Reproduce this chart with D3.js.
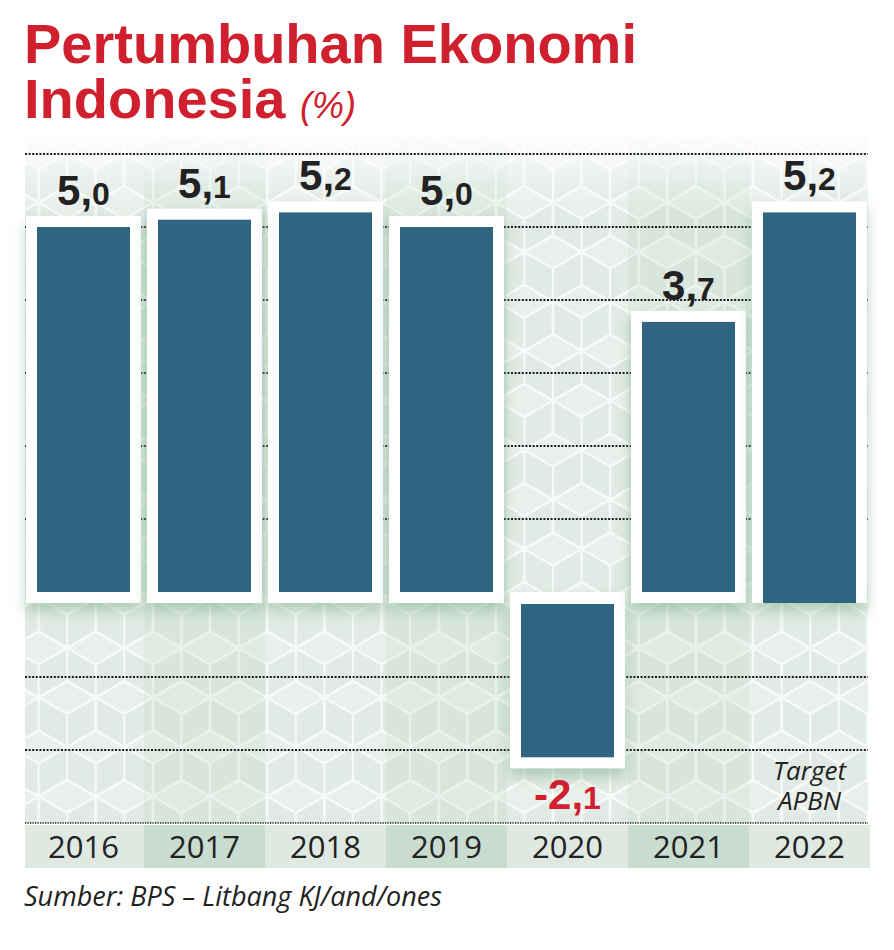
<!DOCTYPE html>
<html>
<head>
<meta charset="utf-8">
<script src="https://cdn.jsdelivr.net/npm/d3@7"></script>
<style>
  body { margin: 0; background: #fff; }
  svg { display: block; }
</style>
</head>
<body>
<div class="chart"></div>
<script>
// data
var years = ['2016', '2017', '2018', '2019', '2020', '2021', '2022'];
var growth = [5.0, 5.1, 5.2, 5.0, -2.1, 3.7, 5.2];
var isTarget = [false, false, false, false, false, false, true];
var gridPos = [1, 2, 3, 4, 5, 6];
var gridNeg = [-1, -2, -3];

var Page = { width: 894, height: 950 };
var red = '#d0202e';
var barColor = '#2f6580';

var svg = d3.select('.chart').append('svg')
  .attr('width', Page.width)
  .attr('height', Page.height);

var x = d3.scaleBand().domain(years).range([26, 867]).paddingInner(6 / 121);
var yPos = d3.scaleLinear().domain([0, 6]).range([592, 154]);
var yNeg = d3.scaleLinear().domain([0, -3]).range([604, 823]);

var left = 25, right = 868;

// defs: cube pattern, fade, shadow
var defs = svg.append('defs');

function hexPath(cx, cy, s) {
  var hw = Math.sqrt(3) * s / 2;
  var pts = [[cx, cy - s], [cx + hw, cy - s / 2], [cx + hw, cy + s / 2],
             [cx, cy + s], [cx - hw, cy + s / 2], [cx - hw, cy - s / 2]];
  var p = 'M' + pts.map(function(q) { return q.join(','); }).join('L') + 'Z';
  p += 'M' + cx + ',' + cy + 'L' + pts[5].join(',');
  p += 'M' + cx + ',' + cy + 'L' + pts[1].join(',');
  p += 'M' + cx + ',' + cy + 'L' + pts[3].join(',');
  return p;
}

var s = 33, W = Math.sqrt(3) * s, H = 3 * s;
var pat = defs.append('pattern')
  .attr('id', 'cubes')
  .attr('patternUnits', 'userSpaceOnUse')
  .attr('x', 10).attr('y', 120)
  .attr('width', W).attr('height', H);
pat.append('rect').attr('width', W).attr('height', H).attr('fill', '#e1eae4');
// lighter top faces
var topFace = function(cx, cy) {
  var hw = Math.sqrt(3) * s / 2;
  return 'M' + cx + ',' + (cy - s) + 'L' + (cx + hw) + ',' + (cy - s / 2) +
    'L' + cx + ',' + cy + 'L' + (cx - hw) + ',' + (cy - s / 2) + 'Z';
};
var centers = [[0, 0], [W, 0], [0, H], [W, H], [W / 2, 1.5 * s]];
pat.selectAll('.face').data(centers).enter().append('path')
  .attr('d', function(c) { return topFace(c[0], c[1]); })
  .attr('fill', '#e9f0eb');
pat.selectAll('.hex').data(centers).enter().append('path')
  .attr('d', function(c) { return hexPath(c[0], c[1], s); })
  .attr('fill', 'none')
  .attr('stroke', '#f7faf8')
  .attr('stroke-width', 2.4);

var fade = defs.append('linearGradient')
  .attr('id', 'fade').attr('x1', 0).attr('y1', 0).attr('x2', 0).attr('y2', 1);
fade.append('stop').attr('offset', 0).attr('stop-color', '#fff').attr('stop-opacity', 1);
fade.append('stop').attr('offset', 1).attr('stop-color', '#fff').attr('stop-opacity', 0);

var shadow = defs.append('filter').attr('id', 'shadow')
  .attr('x', '-20%').attr('y', '-10%').attr('width', '140%').attr('height', '130%');
shadow.append('feDropShadow')
  .attr('dx', 0).attr('dy', 8).attr('stdDeviation', 7)
  .attr('flood-color', '#7fae8e').attr('flood-opacity', 0.55);

// background
svg.append('rect')
  .attr('x', left).attr('y', 135)
  .attr('width', right - left).attr('height', 823 - 135)
  .attr('fill', 'url(#cubes)');

svg.selectAll('.colShade')
  .data(years)
  .enter().append('rect')
  .attr('class', 'colShade')
  .attr('x', function(d) { return x(d) - 3; })
  .attr('y', 135)
  .attr('width', x.step())
  .attr('height', 823 - 135)
  .attr('fill', '#a9cbb4')
  .attr('opacity', function(d, i) { return i % 2 ? 0.16 : 0; });

svg.append('rect')
  .attr('x', left).attr('y', 130)
  .attr('width', right - left).attr('height', 75)
  .attr('fill', 'url(#fade)');

// gridlines
var grid = gridPos.map(function(v) { return yPos(v); })
  .concat(gridNeg.map(function(v) { return yNeg(v); }));

svg.selectAll('.grid')
  .data(grid)
  .enter().append('line')
  .attr('class', 'grid')
  .attr('x1', left).attr('x2', right)
  .attr('y1', function(d) { return d; })
  .attr('y2', function(d) { return d; })
  .attr('stroke', '#1b1b1b')
  .attr('stroke-width', function(d, i) { return i === grid.length - 1 ? 1.6 : 2.2; })
  .attr('stroke-dasharray', function(d, i) { return i === grid.length - 1 ? '1.3,1.2' : '2,1.6'; });

// bars
var bars = years.map(function(y, i) {
  return { year: y, value: growth[i], target: isTarget[i] };
});

var frame = 11;

function barTop(d) { return d.value >= 0 ? yPos(d.value) : yNeg(0); }
function barBottom(d) { return d.value >= 0 ? yPos(0) : yNeg(d.value); }

svg.selectAll('.frame')
  .data(bars)
  .enter().append('rect')
  .attr('class', 'frame')
  .attr('x', function(d) { return x(d.year); })
  .attr('y', function(d) { return d.value >= 0 ? barTop(d) - frame : yPos(0); })
  .attr('width', x.bandwidth())
  .attr('height', function(d) {
    var top = d.value >= 0 ? barTop(d) - frame : yPos(0);
    return barBottom(d) + frame - top;
  })
  .attr('fill', '#fff')
  .attr('filter', 'url(#shadow)');

svg.selectAll('.bar')
  .data(bars)
  .enter().append('rect')
  .attr('class', 'bar')
  .attr('x', function(d) { return x(d.year) + frame; })
  .attr('y', function(d) { return barTop(d); })
  .attr('width', x.bandwidth() - 2 * frame)
  .attr('height', function(d) {
    var bottom = d.target ? barBottom(d) + frame : barBottom(d);
    return bottom - barTop(d);
  })
  .attr('fill', barColor);

// value labels
var labels = svg.selectAll('.value')
  .data(bars)
  .enter().append('text')
  .attr('class', 'value')
  .attr('x', function(d) { return x(d.year) + x.bandwidth() / 2; })
  .attr('y', function(d) { return d.value >= 0 ? barTop(d) - 22 : barBottom(d) + 52; })
  .attr('text-anchor', 'middle')
  .attr('font-family', 'Liberation Sans, Arial, sans-serif')
  .attr('font-weight', 'bold')
  .attr('fill', function(d) { return d.value >= 0 ? '#222' : red; });

labels.append('tspan')
  .attr('font-size', 42)
  .text(function(d) { return d.value.toFixed(1).split('.')[0] + ','; });
labels.append('tspan')
  .attr('font-size', 32)
  .text(function(d) { return d.value.toFixed(1).split('.')[1]; });

// target note
var noteX = x('2022') + x.bandwidth() / 2;
svg.selectAll('.note')
  .data(['Target', 'APBN'])
  .enter().append('text')
  .attr('class', 'note')
  .attr('x', noteX)
  .attr('y', function(d, i) { return 780 + i * 30; })
  .attr('text-anchor', 'middle')
  .attr('font-family', 'Open Sans, sans-serif')
  .attr('font-style', 'italic')
  .attr('font-size', 26)
  .attr('fill', '#222')
  .text(function(d) { return d; });

// year band
svg.selectAll('.yearBand')
  .data(years)
  .enter().append('rect')
  .attr('class', 'yearBand')
  .attr('x', function(d, i) { return i === 0 ? left : x(d) - 3; })
  .attr('y', 825)
  .attr('width', function(d, i) { return i === 0 ? x.step() - 2 : x.step(); })
  .attr('height', 43)
  .attr('fill', function(d, i) { return i % 2 ? '#c8dccf' : '#dfe9e2'; });

svg.selectAll('.year')
  .data(years)
  .enter().append('text')
  .attr('class', 'year')
  .attr('x', function(d) { return x(d) + x.bandwidth() / 2; })
  .attr('y', 858)
  .attr('text-anchor', 'middle')
  .attr('font-family', 'Open Sans, sans-serif')
  .attr('font-size', 31)
  .attr('fill', '#222')
  .text(function(d) { return d; });

// title
var title = svg.append('g')
  .attr('font-family', 'Liberation Sans, Arial, sans-serif')
  .attr('fill', red);
title.append('text')
  .attr('x', 24).attr('y', 63)
  .attr('font-size', 56).attr('font-weight', 'bold')
  .text('Pertumbuhan Ekonomi');
title.append('text')
  .attr('x', 24).attr('y', 118)
  .attr('font-size', 56).attr('font-weight', 'bold')
  .text('Indonesia');
title.append('text')
  .attr('x', 300).attr('y', 118)
  .attr('font-size', 36).attr('font-style', 'italic')
  .text('(%)');

// source
svg.append('text')
  .attr('x', 24).attr('y', 906)
  .attr('font-family', 'Open Sans, sans-serif')
  .attr('font-style', 'italic')
  .attr('font-size', 27)
  .attr('fill', '#222')
  .text('Sumber: BPS \u2013 Litbang KJ/and/ones');
</script>
</body>
</html>
